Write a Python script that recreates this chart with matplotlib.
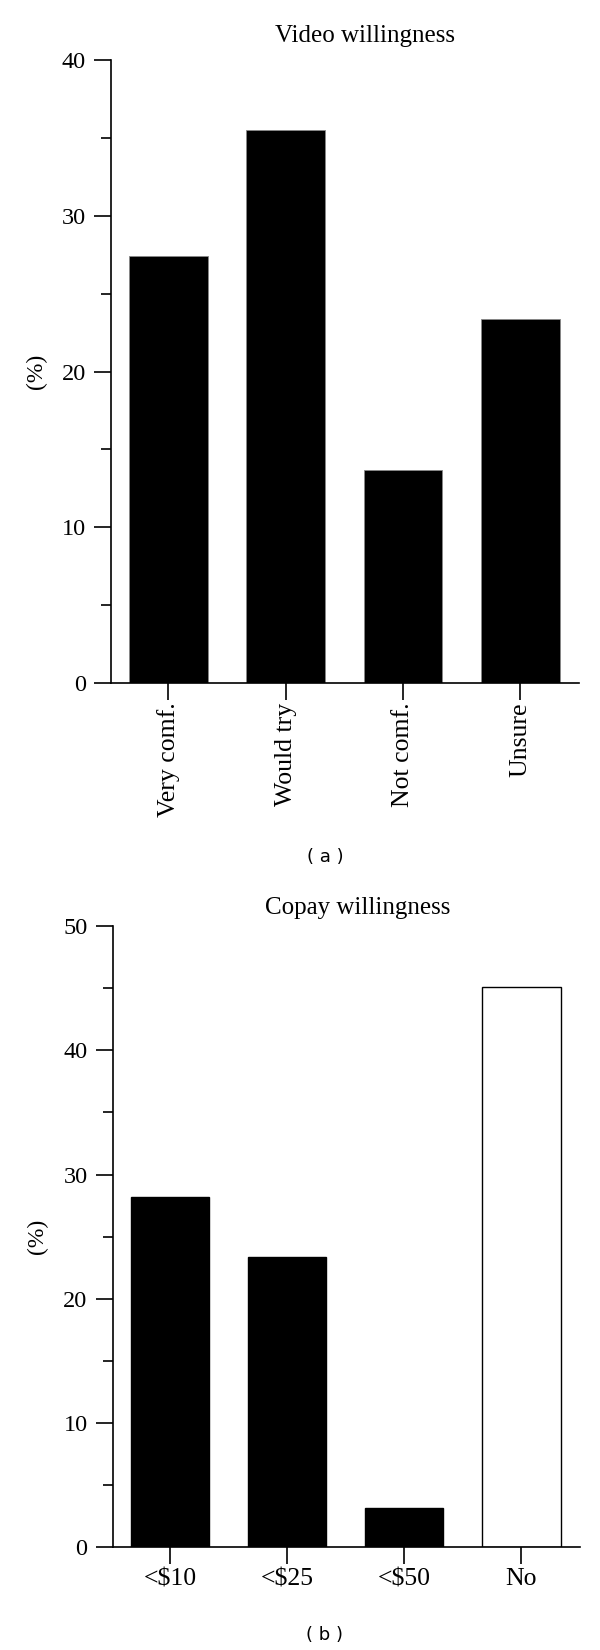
import matplotlib
matplotlib.use("Agg")
import matplotlib.pyplot as plt
from matplotlib.ticker import MultipleLocator

cats_a = ["Very comf.", "Would try", "Not comf.", "Unsure"]
vals_a = [27.4, 35.5, 13.7, 23.4]
cats_b = ["<$10", "<$25", "<$50", "No"]
vals_b = [28.2, 23.4, 3.2, 45.1]
fill_b = ["black", "black", "black", "white"]

plt.rcParams['font.family'] = ['Liberation Serif', 'DejaVu Serif']

fig = plt.figure(figsize=(6, 16.5), dpi=100)
W, H = 600, 1650

def make_ax(left, right, top, bottom):
    return fig.add_axes([left / W, 1 - bottom / H, (right - left) / W, (bottom - top) / H])

ax_a = make_ax(111, 579, 60, 683)
ax_b = make_ax(112.5, 580, 926, 1547.3)

def style(ax, ymax):
    for s in ["top", "right"]:
        ax.spines[s].set_visible(False)
    for s in ["left", "bottom"]:
        ax.spines[s].set_linewidth(1.2)
    ax.set_ylim(0, ymax)
    ax.set_xlim(-0.49, 3.5)
    ax.yaxis.set_major_locator(MultipleLocator(10))
    ax.yaxis.set_minor_locator(MultipleLocator(5))
    ax.tick_params(axis="y", which="major", length=12, width=1.2, labelsize=17.5, pad=6)
    ax.tick_params(axis="y", which="minor", length=7, width=1.2)
    ax.tick_params(axis="x", which="major", length=12, width=1.2, labelsize=18.5, pad=2)
    ax.set_ylabel("(%)", fontsize=17)
    ax.yaxis.set_label_coords(-0.137, 0.5)

x = range(4)
ax_a.bar(x, vals_a, width=0.67, color="black", edgecolor="#888888", linewidth=0.6)
style(ax_a, 40)
ax_a.set_xticks(list(x))
ax_a.set_xticklabels(cats_a, rotation=90, va="top", ha="center")

ax_b.bar(x, vals_b, width=0.67, color=fill_b, edgecolor="black", linewidth=1.0)
style(ax_b, 50)
ax_b.set_xticks(list(x))
ax_b.set_xticklabels(cats_b)
ax_b.tick_params(axis="x", pad=3)

fig.text(365 / W, 1 - 36 / H, "Video willingness", ha="center", va="center", fontsize=18)
fig.text(358 / W, 1 - 908 / H, "Copay willingness", ha="center", va="center", fontsize=18)
fig.text(325 / W, 1 - 857 / H, "( a )", ha="center", va="center", fontsize=13, family="DejaVu Sans")
fig.text(325 / W, 1 - 1635 / H, "( b )", ha="center", va="center", fontsize=13, family="DejaVu Sans")

fig.savefig("out.png", dpi=100)
